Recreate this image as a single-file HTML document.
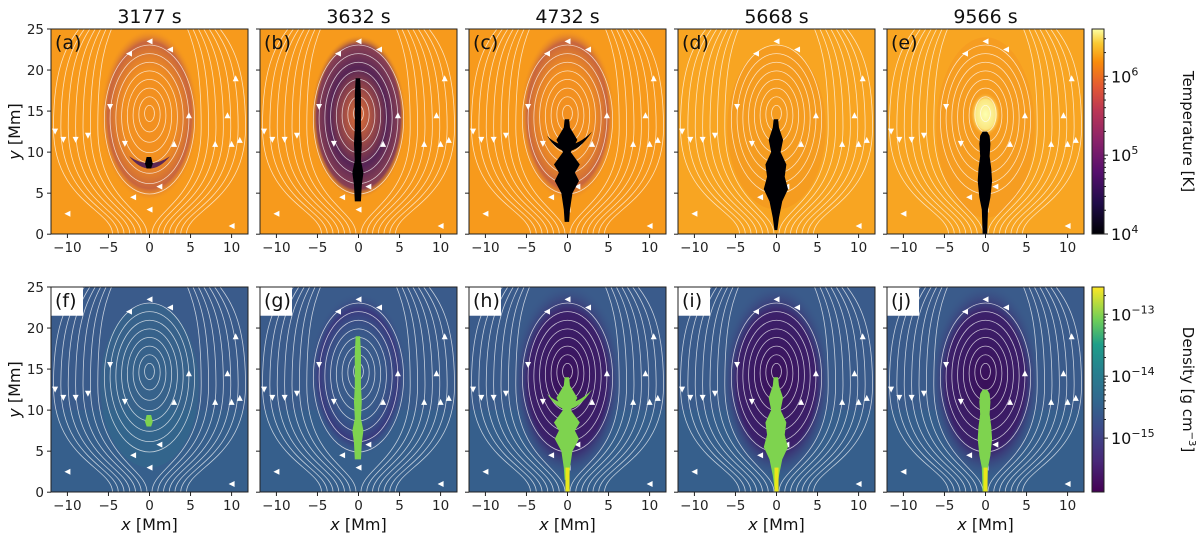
<!DOCTYPE html>
<html><head><meta charset="utf-8"><style>
body{margin:0;background:#fff;width:1200px;height:538px;overflow:hidden}
svg{font-family:"DejaVu Sans","Liberation Sans",sans-serif}
</style></head><body>
<svg id="fig" width="1200" height="538" viewBox="0 0 1200 538" xmlns="http://www.w3.org/2000/svg">
<defs>
<linearGradient id="inferno" x1="0" y1="1" x2="0" y2="0">
<stop offset="0" stop-color="#000004"/><stop offset="0.15" stop-color="#1f0c48"/><stop offset="0.3" stop-color="#550f6d"/><stop offset="0.45" stop-color="#88226a"/><stop offset="0.6" stop-color="#ba3655"/><stop offset="0.72" stop-color="#e35933"/><stop offset="0.84" stop-color="#f98c0a"/><stop offset="0.93" stop-color="#f9c932"/><stop offset="1" stop-color="#fcffa4"/>
</linearGradient>
<linearGradient id="viridis" x1="0" y1="1" x2="0" y2="0">
<stop offset="0" stop-color="#440154"/><stop offset="0.15" stop-color="#482878"/><stop offset="0.3" stop-color="#3e4989"/><stop offset="0.45" stop-color="#31688e"/><stop offset="0.6" stop-color="#26828e"/><stop offset="0.72" stop-color="#1f9e89"/><stop offset="0.84" stop-color="#6ece58"/><stop offset="1" stop-color="#fde725"/>
</linearGradient>
<radialGradient id="hot" cx="0.5" cy="0.5" r="0.5"><stop offset="0" stop-color="#fcffb0"/><stop offset="0.7" stop-color="#fbe680"/><stop offset="1" stop-color="#f9b030" stop-opacity="0"/></radialGradient>
<radialGradient id="cavT" cx="0.5" cy="0.5" r="0.5"><stop offset="0.5" stop-color="#e87a28" stop-opacity="0.3"/><stop offset="0.85" stop-color="#a13a5a" stop-opacity="0.55"/><stop offset="1" stop-color="#f79a1c" stop-opacity="0"/></radialGradient>
<radialGradient id="cavB" cx="0.5" cy="0.5" r="0.5"><stop offset="0" stop-color="#c8504a" stop-opacity="0.6"/><stop offset="0.6" stop-color="#3a1060" stop-opacity="0.85"/><stop offset="0.88" stop-color="#5a1a6a" stop-opacity="0.7"/><stop offset="1" stop-color="#f79a1c" stop-opacity="0"/></radialGradient>
<radialGradient id="cavD" cx="0.5" cy="0.5" r="0.5"><stop offset="0" stop-color="#3a0f5a"/><stop offset="0.7" stop-color="#3c1a66" stop-opacity="0.9"/><stop offset="1" stop-color="#3b5a8c" stop-opacity="0"/></radialGradient>
<radialGradient id="cavG" cx="0.5" cy="0.5" r="0.5"><stop offset="0.4" stop-color="#34588a" stop-opacity="0"/><stop offset="0.8" stop-color="#3a2a78" stop-opacity="0.7"/><stop offset="1" stop-color="#3b5a8c" stop-opacity="0"/></radialGradient>
</defs>
</svg>
<script>
const times=["3177 s","3632 s","4732 s","5668 s","9566 s"];
const topLabels=["(a)","(b)","(c)","(d)","(e)"];
const botLabels=["(f)","(g)","(h)","(i)","(j)"];
const xTicks=[-10,-5,0,5,10];
const yTicks=[0,5,10,15,20,25];
const tempTicks=[4,5,6];
const densTicks=[-15,-14,-13];
const tempRange=[4,6.6];
const densRange=[-15.87,-12.56];
// blob profiles: [y, halfwidth] along x=0 (Mm)
const blobs=[
 [[8,0.2],[8.6,0.4],[9.4,0.2]],
 [[4,0.3],[6,0.4],[7.5,0.6],[9,0.3],[11,0.4],[13,0.3],[15,0.3],[17,0.3],[19,0.2]],
 [[1.5,0.2],[3,0.3],[5,0.6],[6.5,1.4],[7.5,0.9],[8.5,1.5],[10,0.4],[11.5,1.2],[13,0.3],[14,0.2]],
 [[0.5,0.1],[2,0.3],[4,0.7],[5.5,1.4],[7,1.0],[8.5,1.2],[10,0.5],[11.5,0.8],[13,0.3],[14,0.2]],
 [[0,0.2],[3,0.3],[4.5,0.6],[6.5,0.8],[8,0.7],[9.5,0.5],[11,0.6],[12,0.5],[12.5,0.2]]
];
const S=197/24, X0=[51,260,469,678,887], Y0=[29,287], H=205;
const svg=document.getElementById('fig');
const NS='http://www.w3.org/2000/svg';
function mk(tag,attrs,parent){const e=document.createElementNS(NS,tag);for(const k in attrs)e.setAttribute(k,attrs[k]);(parent||svg).appendChild(e);return e;}
function txt(s,attrs,parent){const e=mk('text',attrs,parent);e.textContent=s;return e;}
for(let r=0;r<2;r++){for(let c=0;c<5;c++){
 const x0=X0[c],y0=Y0[r];
 const px=x=>x0+(x+12)*S, py=y=>y0+(25-y)*S;
 const g=mk('g',{});
 
 
 const clipId='clip'+r+c;
 const cp=mk('clipPath',{id:clipId},g);mk('rect',{x:x0,y:y0,width:197,height:H},cp);
 const inner=mk('g',{'clip-path':'url(#'+clipId+')'},g);
 mk('rect',{x:x0,y:y0,width:197,height:H,fill:r?'#3a5b8b':(c===3||c===4?'#f8a522':'#f79a1c')},inner);
 if(r===1) mk('rect',{x:x0,y:py(10),width:197,height:py(0)-py(10),fill:'#31688e',opacity:0.35},inner);
 // cavity
 if(r===0){
  if(c===0) mk('ellipse',{cx:px(0),cy:py(14.5),rx:6*S,ry:10.5*S,fill:'url(#cavT)'},inner);
  if(c===1) mk('ellipse',{cx:px(0),cy:py(14.3),rx:5.8*S,ry:10*S,fill:'url(#cavB)'},inner);
  if(c===2) mk('ellipse',{cx:px(0),cy:py(14.5),rx:5.8*S,ry:10.5*S,fill:'url(#cavT)'},inner);
  if(c===3) mk('ellipse',{cx:px(0),cy:py(13),rx:6*S,ry:10*S,fill:'#f08d1c',opacity:0.35},inner);
  if(c===4){mk('ellipse',{cx:px(0),cy:py(13),rx:6*S,ry:11*S,fill:'#f39020',opacity:0.35},inner);
   mk('ellipse',{cx:px(0),cy:py(14.6),rx:1.8*S,ry:2.6*S,fill:'url(#hot)'},inner);}
  if(c===0) mk('path',{d:`M${px(-2.5)},${py(9.5)} Q${px(0)},${py(6.5)} ${px(2.5)},${py(9.5)} Q${px(0)},${py(7.8)} ${px(-2.5)},${py(9.5)}Z`,fill:'#3a1060',opacity:0.8},inner);
 }else{
  if(c===0) mk('ellipse',{cx:px(0),cy:py(13),rx:6*S,ry:10*S,fill:'#2a8a8a',opacity:0.15},inner);
  if(c===1) mk('ellipse',{cx:px(0),cy:py(14.3),rx:6*S,ry:10*S,fill:'url(#cavG)'},inner);
  if(c>=2) mk('ellipse',{cx:px(0),cy:py(13.5),rx:6.8*S,ry:12*S,fill:'url(#cavD)'},inner);
 }
 // streamlines
 const sl=mk('g',{fill:'none',stroke:'#fff','stroke-width':0.8,opacity:0.7},inner);
 [0.6,1.3,2,2.7,3.4,4.1,4.8,5.5].forEach(a=>mk('ellipse',{cx:px(0),cy:py(14.8-a*0.15),rx:a*S,ry:a*1.65*S},sl));
 [6.3,7.2,8.1,9,9.9,10.8,11.7].forEach((a,i)=>{[-1,1].forEach(sg=>{
  const xb=sg*(0.3+i*0.7), xm=sg*a;
  mk('path',{d:`M${px(xb)},${py(0)} C${px(xb)},${py(3)} ${px(xm)},${py(4)} ${px(xm)},${py(13)} S${px(xm*0.8)},${py(24)} ${px(xm*0.6)},${py(27)}`},sl);});});
 // arrows
 const ar=mk('g',{fill:'#fff'},inner);
 [[-11.5,12.5,1],[-10.5,11.5,1],[-9,11.5,1],[-7.5,12,1],[10,11,-1],[11,11.5,-1],[8,11,-1],[-4.8,15.5,1],[4.8,14.5,-1],[0,23.5,0],[-2.5,22,0],[2.5,22.5,0],[9.5,14.5,-1],[10.5,19,-1],[-2,4.5,0],[1.2,5.8,0],[0,3,0],[-10,2.5,0],[10,1,0],[-3,11,1],[3,11,-1]].forEach(a=>{
  const x=px(a[0]),y=py(a[1]);const d=a[2]>0?`M${x-3},${y-3}L${x+3},${y-3}L${x},${y+3}Z`:a[2]<0?`M${x-3},${y+3}L${x+3},${y+3}L${x},${y-3}Z`:`M${x+3},${y-3}L${x+3},${y+3}L${x-3},${y}Z`;
  mk('path',{d},ar);});
 // blob
 const b=blobs[c];
 let d='M'+b.map(p=>`${px(p[1])},${py(p[0])}`).join(' L')+' L'+b.slice().reverse().map(p=>`${px(-p[1]-0.15)},${py(p[0])}`).join(' L')+'Z';
 const bl=mk('path',{d,fill:r?'#7ed34f':'#000004'},inner);
 
 
 if(r===1&&c>=2) mk('rect',{x:px(-0.25),y:py(3),width:0.5*S,height:3*S,fill:'#e8e81a'},inner);
 if(r===0&&c===2) mk('path',{d:`M${px(-2.5)},${py(12)} Q${px(0)},${py(8)} ${px(3)},${py(12.5)} Q${px(0)},${py(9.5)} ${px(-2.5)},${py(12)}Z`,fill:'#000004'},inner);
 if(r===1&&c===2) mk('path',{d:`M${px(-2.5)},${py(12)} Q${px(0)},${py(8)} ${px(3)},${py(12.5)} Q${px(0)},${py(9.5)} ${px(-2.5)},${py(12)}Z`,fill:'#7ed34f'},inner);
 if(r===1) mk('rect',{x:x0-1,y:y0-1,width:33,height:py(21.5)-y0+1,fill:'#fff'},g);
 mk('rect',{x:x0,y:y0,width:197,height:H,fill:'none',stroke:'#222','stroke-width':1},g);
 const pl=txt((r?botLabels:topLabels)[c],{x:x0+4,y:y0+20,'font-size':19,fill:'#111'},g);
 
 
 xTicks.forEach(t=>{mk('line',{x1:px(t),x2:px(t),y1:y0+H,y2:y0+H+4,stroke:'#222'},g);
  const tl=txt(String(t).replace('-','\u2212'),{x:px(t),y:y0+H+18,'font-size':13.5,'text-anchor':'middle',fill:'#222'},g);
  
  });
 yTicks.forEach(t=>{mk('line',{x1:x0,x2:x0-4,y1:py(t),y2:py(t),stroke:'#222'},g);
  if(c===0){const tl=txt(String(t),{x:x0-7,y:py(t)+5,'font-size':13.5,'text-anchor':'end',fill:'#222'},g);
  
  }});
 if(r===0){const tt=txt(times[c],{x:x0+98.5,y:23,'font-size':19,'text-anchor':'middle',fill:'#111'},g);
  
  }
 else{const xl=txt('',{x:x0+98.5,y:530,'font-size':16,'text-anchor':'middle',fill:'#111'},g);
  xl.innerHTML='<tspan font-style="italic">x</tspan> [Mm]';
  
  }
 if(c===0){const yl=txt('',{x:20,y:y0+H/2,'font-size':16,'text-anchor':'middle',fill:'#111',transform:`rotate(-90 20 ${y0+H/2})`},g);
  yl.innerHTML='<tspan font-style="italic">y</tspan> [Mm]';
  
  }
}}
// colorbars
[[0,tempTicks,tempRange,'url(#inferno)'],[1,densTicks,densRange,'url(#viridis)']].forEach(cb=>{
 const y0=Y0[cb[0]], x=1092, w=12;
 const g=mk('g',{});
 
 
 mk('rect',{x,y:y0,width:w,height:H,fill:cb[3],stroke:'#222','stroke-width':1},g);
 const rg=cb[2], cy=v=>y0+H-(v-rg[0])/(rg[1]-rg[0])*H;
 cb[1].forEach(t=>{mk('line',{x1:x+w,x2:x+w+4,y1:cy(t),y2:cy(t),stroke:'#222'},g);
  for(let k=2;k<10;k++){const v=t+Math.log10(k);if(v<rg[1])mk('line',{x1:x+w,x2:x+w+2,y1:cy(v),y2:cy(v),stroke:'#222'},g);}
  const e=String(t).replace('-','\u2212');
  const tl=txt('',{x:x+w+7,y:cy(t)+6,'font-size':16,fill:'#111'},g);
  tl.innerHTML=`10<tspan dy="-7" font-size="11">${e}</tspan>`;
  
  });
 const lx=1183, ly=y0+H/2;
 const lt=txt('',{x:lx,y:ly,'font-size':15,'text-anchor':'middle',fill:'#111',transform:`rotate(90 ${lx} ${ly})`},g);
 lt.innerHTML=cb[0]?'Density [g cm<tspan dy="-6" font-size="10">\u22123</tspan><tspan dy="6">]</tspan>':'Temperature [K]';
 
 
});
</script>
</body></html>
